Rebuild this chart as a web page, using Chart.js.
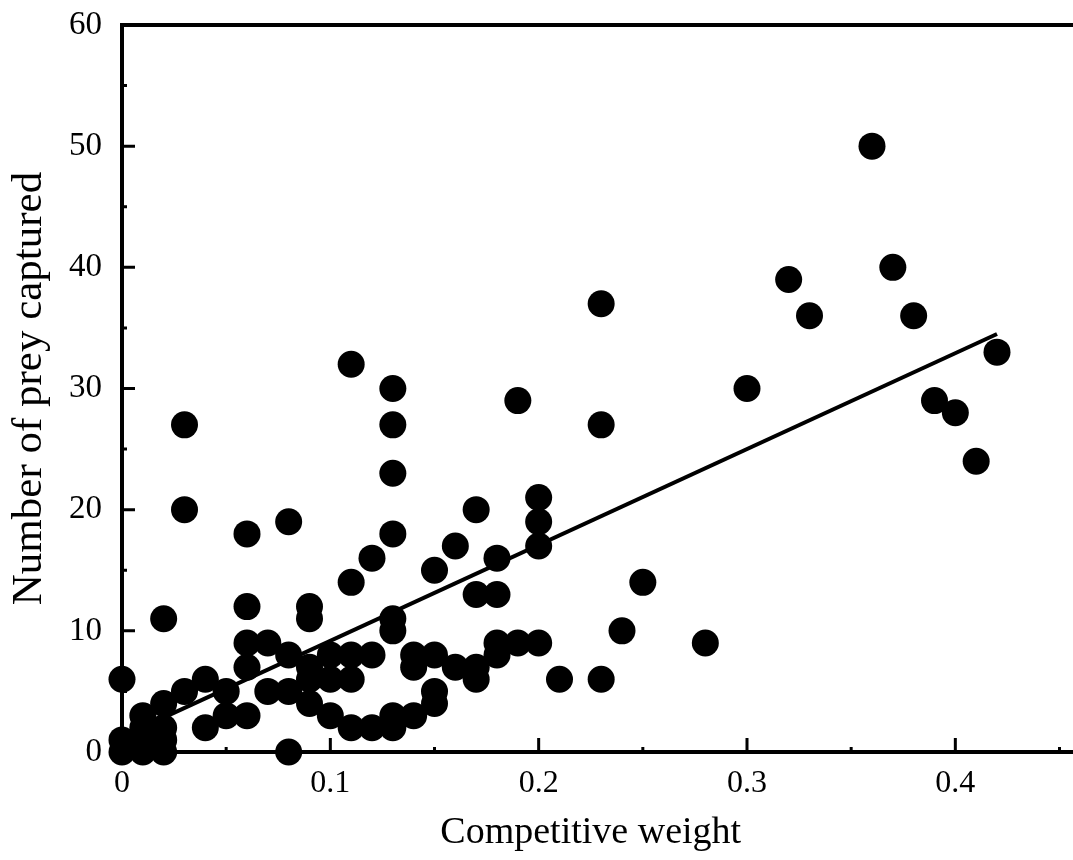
<!DOCTYPE html>
<html>
<head>
<meta charset="utf-8">
<title>Number of prey captured vs competitive weight</title>
<script src="https://cdn.jsdelivr.net/npm/chart.js@4.4.0/dist/chart.umd.min.js"></script>
<style>
  html, body { margin: 0; padding: 0; background: #fff; }
  #wrap { width: 1073px; height: 860px; }
</style>
</head>
<body>
<div id="wrap"><canvas id="preyChart" width="1073" height="860"></canvas></div>
<script>
  // --- Data ---
  const competitiveWeight = [
    0.36, 0.37, 0.32, 0.23, 0.33, 0.38, 0.42, 0.11, 0.13, 0.30,
    0.19, 0.39, 0.40, 0.03, 0.13, 0.23, 0.41, 0.13, 0.20, 0.03,
    0.17, 0.08, 0.20, 0.06, 0.13, 0.16, 0.20, 0.12, 0.18, 0.15,
    0.11, 0.25, 0.17, 0.18, 0.06, 0.09, 0.02, 0.09, 0.13, 0.13,
    0.24, 0.06, 0.07, 0.18, 0.19, 0.20, 0.28, 0.08, 0.10, 0.11,
    0.12, 0.14, 0.15, 0.18, 0.06, 0.14, 0.16, 0.17, 0.09, 0.00,
    0.04, 0.09, 0.10, 0.11, 0.17, 0.21, 0.23, 0.03, 0.05, 0.07,
    0.08, 0.15, 0.02, 0.09, 0.15, 0.01, 0.05, 0.06, 0.10, 0.13,
    0.14, 0.04, 0.11, 0.12, 0.13, 0.01, 0.02, 0.00, 0.01, 0.02,
    0.00, 0.01, 0.02, 0.08
  ];
  const preyCaptured = [
    50, 40, 39, 37, 36, 36, 33, 32, 30, 30,
    29, 29, 28, 27, 27, 27, 24, 23, 21, 20,
    20, 19, 19, 18, 18, 17, 17, 16, 16, 15,
    14, 14, 13, 13, 12, 12, 11, 11, 11, 10,
    10, 9, 9, 9, 9, 9, 9, 8, 8, 8,
    8, 8, 8, 8, 7, 7, 7, 7, 7, 6,
    6, 6, 6, 6, 6, 6, 6, 5, 5, 5,
    5, 5, 4, 4, 4, 3, 3, 3, 3, 3,
    3, 2, 2, 2, 2, 2, 2, 1, 1, 1,
    0, 0, 0, 0
  ];

  // regression line end points
  const fitX = [0.022, 0.42];
  const fitY = [3.0, 34.5];

  const xTickValues = [0, 0.1, 0.2, 0.3, 0.4];
  const yTickValues = [0, 10, 20, 30, 40, 50, 60];

  Chart.defaults.font.family = "'Liberation Serif', 'Times New Roman', serif";
  Chart.defaults.color = "#000";

  // --- Axis frame with inward tick marks ---
  const frameAndTicks = {
    id: "frameAndTicks",
    afterDraw(chart) {
      const { ctx, chartArea: a, scales: { x, y } } = chart;
      ctx.save();
      ctx.strokeStyle = "#000";
      ctx.lineCap = "square";

      // frame: left, top, bottom (no right side)
      ctx.lineWidth = 4;
      ctx.beginPath();
      ctx.moveTo(a.left, a.bottom);
      ctx.lineTo(a.left, a.top);
      ctx.lineTo(chart.width, a.top);
      ctx.moveTo(a.left, a.bottom);
      ctx.lineTo(chart.width, a.bottom);
      ctx.stroke();

      ctx.lineWidth = 3;
      ctx.lineCap = "butt";
      ctx.beginPath();
      for (let v = 5; v < 60; v += 5) {
        const py = y.getPixelForValue(v);
        const len = v % 10 === 0 ? 13 : 5;
        ctx.moveTo(a.left, py);
        ctx.lineTo(a.left + len, py);
      }
      for (let v = 0.05; v < 0.45; v += 0.05) {
        const px = x.getPixelForValue(v);
        const major = Math.abs(v * 10 - Math.round(v * 10)) < 1e-6;
        ctx.moveTo(px, a.bottom);
        ctx.lineTo(px, a.bottom - (major ? 14 : 5));
      }
      ctx.stroke();
      ctx.restore();
    }
  };

  const points = competitiveWeight.map((cw, i) => ({ x: cw, y: preyCaptured[i] }));
  const fitLine = fitX.map((fx, i) => ({ x: fx, y: fitY[i] }));

  new Chart(document.getElementById("preyChart"), {
    type: "scatter",
    data: {
      datasets: [
        {
          label: "Prey captured",
          data: points,
          backgroundColor: "#000",
          borderWidth: 0,
          pointRadius: 13.5,
          pointHoverRadius: 13.5,
          clip: false
        },
        {
          label: "Fit",
          type: "line",
          data: fitLine,
          borderColor: "#000",
          borderWidth: 4,
          pointRadius: 0,
          fill: false,
          clip: false
        }
      ]
    },
    options: {
      responsive: false,
      animation: false,
      events: [],
      layout: { padding: { top: 25, right: 0, left: 0, bottom: 0 } },
      plugins: {
        legend: { display: false },
        tooltip: { enabled: false }
      },
      scales: {
        x: {
          type: "linear",
          min: 0,
          max: 0.45,
          grid: { display: false, drawTicks: false },
          border: { display: false },
          afterBuildTicks: (scale) => { scale.ticks = xTickValues.map(v => ({ value: v })); },
          afterFit: (scale) => {
            scale.height = 108;
            scale.paddingLeft = 0;
            scale.paddingRight = 0;
          },
          ticks: {
            padding: 12,
            font: { size: 32 },
            maxRotation: 0,
            callback: (v) => (v === 0 ? "0" : v.toFixed(1))
          },
          title: {
            display: true,
            text: "Competitive weight",
            font: { size: 38 },
            padding: { top: 4, bottom: 4 }
          }
        },
        y: {
          type: "linear",
          min: 0,
          max: 60,
          grid: { display: false, drawTicks: false },
          border: { display: false },
          afterBuildTicks: (scale) => { scale.ticks = yTickValues.map(v => ({ value: v })); },
          afterFit: (scale) => {
            scale.width = 122;
            scale.paddingTop = 0;
            scale.paddingBottom = 0;
          },
          ticks: {
            padding: 20,
            font: { size: 33 },
            callback: (v) => String(v)
          },
          title: {
            display: true,
            text: "Number of prey captured",
            font: { size: 43 },
            padding: { top: 4, bottom: 4 }
          }
        }
      }
    },
    plugins: [frameAndTicks]
  });
</script>
</body>
</html>
